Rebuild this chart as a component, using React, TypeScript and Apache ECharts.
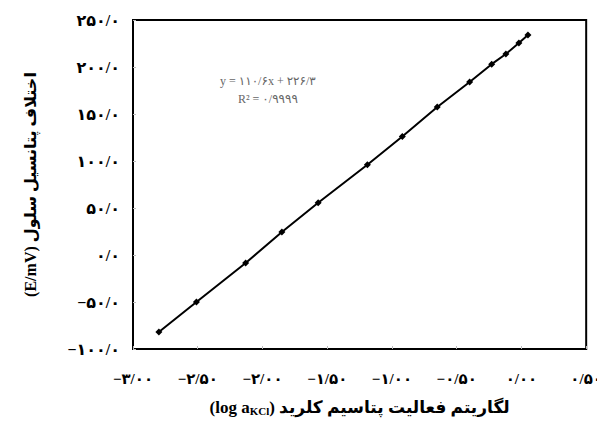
import React, { useEffect, useRef } from "react";
import * as echarts from "echarts";

const xValues = [-2.8, -2.51, -2.13, -1.85, -1.57, -1.19, -0.92, -0.65, -0.4, -0.23, -0.12, -0.02, 0.05];
const yValues = [-82, -50, -8.5, 24.5, 55.5, 96, 126, 157.4, 184, 203, 213.8, 225.5, 234];

const xTickLabels = ["−۳/۰۰", "−۲/۵۰", "−۲/۰۰", "−۱/۵۰", "−۱/۰۰", "−۰/۵۰", "۰/۰۰", "۰/۵۰"];
const yTickLabels = ["−۱۰۰/۰", "−۵۰/۰", "۰/۰", "۵۰/۰", "۱۰۰/۰", "۱۵۰/۰", "۲۰۰/۰", "۲۵۰/۰"];

const xTitleLatinA = "(log a";
const xTitleSub = "KCl";
const xTitlePersian = ") لگاریتم فعالیت پتاسیم کلرید";
const yTitle = "(E/mV) اختلاف پتانسیل سلول";
const equationText = "y = ۱۱۰/۶x + ۲۲۶/۳";
const r2Text = "R² = ۰/۹۹۹۹";

const FONT = "'Liberation Serif', 'DejaVu Sans', serif";

export default function App() {
  const ref = useRef<HTMLDivElement>(null);
  useEffect(() => {
    if (!ref.current) return;
    const chart = echarts.init(ref.current, null, { renderer: "svg" });
    chart.setOption({
      animation: false,
      backgroundColor: "#fff",
      grid: { left: 133, right: 15, top: 20, bottom: 79, show: true, borderColor: "#000", borderWidth: 2, backgroundColor: "transparent" },
      xAxis: {
        type: "value",
        min: -3,
        max: 0.5,
        interval: 0.5,
        name: `{a|${xTitleLatinA}}{s|${xTitleSub}}{a|${xTitlePersian}}`,
        nameLocation: "middle",
        nameGap: 50,
        nameTextStyle: {
          fontFamily: FONT,
          fontWeight: "bold",
          fontSize: 17,
          color: "#000",
          rich: {
            a: { fontFamily: FONT, fontWeight: "bold", fontSize: 17, color: "#000", verticalAlign: "bottom" },
            s: { fontFamily: FONT, fontWeight: "bold", fontSize: 11, color: "#000", verticalAlign: "bottom" },
          },
        },
        axisLine: { show: true, onZero: false, lineStyle: { color: "#000", width: 2 } },
        axisTick: { show: true, inside: true, length: 3, lineStyle: { color: "#bbb" } },
        splitLine: { show: false },
        axisLabel: {
          margin: 22,
          fontFamily: FONT,
          fontWeight: "bold",
          fontSize: 15,
          color: "#000",
          formatter: (_v: number, i: number) => xTickLabels[i],
        },
      },
      yAxis: {
        type: "value",
        min: -100,
        max: 250,
        interval: 50,
        name: yTitle,
        nameLocation: "middle",
        nameRotate: 90,
        nameGap: 95,
        nameTextStyle: { fontFamily: FONT, fontWeight: "bold", fontSize: 16, color: "#000" },
        axisLine: { show: true, onZero: false, lineStyle: { color: "#000", width: 2 } },
        axisTick: { show: true, inside: true, length: 3, lineStyle: { color: "#bbb" } },
        splitLine: { show: false },
        axisLabel: {
          margin: 13,
          fontFamily: FONT,
          fontWeight: "bold",
          fontSize: 16,
          color: "#000",
          formatter: (_v: number, i: number) => yTickLabels[i],
        },
      },
      series: [
        {
          type: "line",
          data: xValues.map((x, i) => [x, yValues[i]]),
          symbol: "diamond",
          symbolSize: 7,
          lineStyle: { color: "#000", width: 2 },
          itemStyle: { color: "#000" },
        },
      ],
      graphic: [
        {
          type: "text",
          left: 220,
          top: 75,
          style: { text: equationText, fontFamily: FONT, fontSize: 12, fill: "#666" },
        },
        {
          type: "text",
          left: 238,
          top: 93,
          style: { text: r2Text, fontFamily: FONT, fontSize: 12, fill: "#666" },
        },
      ],
    });
    return () => chart.dispose();
  }, []);
  return <div ref={ref} style={{ width: 605, height: 428, marginLeft: -8, marginTop: -8 }} />;
}
